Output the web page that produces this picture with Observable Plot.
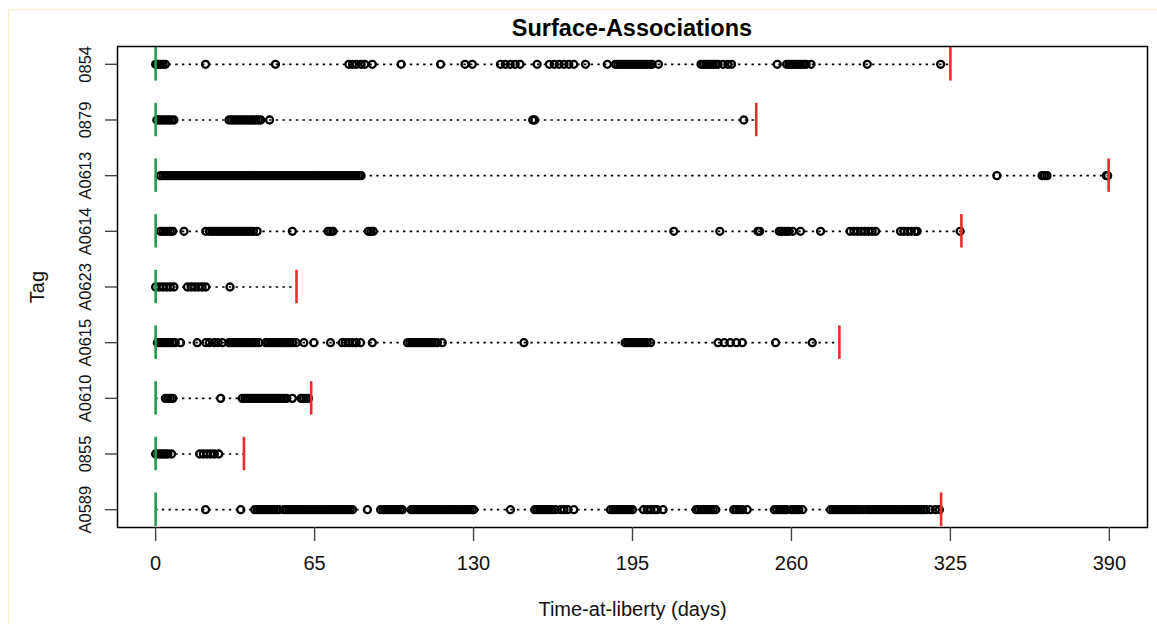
<!DOCTYPE html>
<html>
<head>
<meta charset="utf-8">
<script src="https://cdn.jsdelivr.net/npm/d3@7"></script>
<script src="https://cdn.jsdelivr.net/npm/@observablehq/plot@0.6"></script>
<style>
  html, body { margin: 0; padding: 0; background: #fff; }
  body { width: 1157px; height: 624px; overflow: hidden; position: relative; font-family: "Liberation Sans", Arial, Helvetica, sans-serif; }
  #edge { position: absolute; left: 8px; top: 9px; width: 1300px; height: 800px; border-left: 1px solid #fbefc6; border-top: 1px solid #fbefc6; }
  #head { position: relative; height: 45px; }
  #title { position: absolute; left: 117px; width: 1030px; top: 17px; line-height: 23px; text-align: center; font-size: 23.5px; font-weight: bold; color: #000; }
  #chart svg { display: block; }
</style>
</head>
<body>
<div id="edge"></div>
<div id="head"><div id="title">Surface-Associations</div></div>
<div id="chart"></div>
<script>
// Tags, top to bottom
const tags = ["0854", "0879", "A0613", "A0614", "A0623", "A0615", "A0610", "0855", "A0589"];
// Release (day 0) and end of time-at-liberty per tag
const startDays = [0, 0, 0, 0, 0, 0, 0, 0, 0];
const endDays = [325, 245.6, 389.7, 329.5, 57.6, 279.6, 63.6, 36.1, 321.2];
const xTicks = [0, 65, 130, 195, 260, 325, 390];

// Surface-association events (days at liberty)
const days0854 = [0, 0.5, 1, 2, 3, 4, 20.4, 49, 79, 80.5, 82, 84, 85.5, 88.6, 100.4, 116.5, 126.5, 129.5,
  141, 143, 145, 147, 149, 156, 161, 163, 165, 167, 169, 171, 175.8, 184.7,
  188, 189, 190, 191, 192, 193, 194, 195, 196, 197, 198, 199, 200, 201, 202, 203, 205.6,
  223, 224, 225, 226, 227, 228, 229, 230, 232, 234, 235.5, 254.2,
  258, 259, 260, 261, 262, 263, 264, 265, 266, 268, 291, 321];
const days0879 = [0.5, 1.5, 2.5, 3.5, 4.5, 5.5, 6.5, 7.5, 30, 31, 32, 33, 34, 35, 36, 37, 38, 39, 40, 41, 42, 43,
  46.6, 154.2, 155, 240.5];
const daysA0613 = [2, 3, 4, 5, 6, 7, 8, 9, 10, 11, 12, 13, 14, 15, 16, 17, 18, 19, 20, 21, 22, 23, 24, 25, 26, 27,
  28, 29, 30, 31, 32, 33, 34, 35, 36, 37, 38, 39, 40, 41, 42, 43, 44, 45, 46, 47, 48, 49, 50, 51, 52, 53, 54,
  55, 56, 57, 58, 59, 60, 61, 62, 63, 64, 65, 66, 67, 68, 69, 70, 71, 72, 73, 74, 75, 76, 77, 78, 79, 80, 81,
  82, 83, 84, 344, 362.5, 363.5, 364.5, 388.8, 389.3];
const daysA0614 = [2, 3, 4, 5, 6, 7, 11.6, 20.5, 22, 23, 24, 25, 26, 27, 28, 29, 30, 31, 32, 33, 34, 35, 36, 37,
  38, 39, 40, 41.5, 55.9, 70.5, 71.5, 72.5, 87, 88, 89, 211.9, 230.7, 246.3, 247, 255, 256, 257, 258, 259,
  260.5, 263.7, 271.9, 284, 285.5, 287, 288.5, 290, 291.5, 293, 294.4, 304.6, 306, 307.5, 309, 310.5, 311.4, 329];
const daysA0623 = [0, 1.5, 3, 4.5, 6, 7.5, 13, 14.5, 16, 17.5, 19, 20.5, 30.4];
const daysA0615 = [0.7, 1.7, 2.7, 3.7, 4.7, 5.7, 6.8, 8, 10.2, 17, 20.5, 22, 24, 25.5, 27.3, 30, 31, 32, 33, 34,
  35, 36, 37, 38, 39, 40, 41, 42.3, 45, 46, 47, 48, 49, 50, 51, 52, 53, 54, 55, 56, 57.5, 60.6, 64.7, 71.5,
  76.3, 77.5, 79, 80.5, 82, 83.8, 88.6, 103, 104, 105, 106, 107, 108, 109, 110, 111, 112, 113, 114, 115.2,
  117.2, 150.6, 192, 193, 194, 195, 196, 197, 198, 199, 200, 201, 202.4, 230, 232.5, 235, 237.5, 239.9,
  253.5, 268.5];
const daysA0610 = [4, 5, 6, 7, 26.6, 35.4, 36.5, 37.5, 38.5, 39.5, 40.5, 41.5, 42.5, 43.5, 44.5, 45.5, 46.5,
  47.5, 48.5, 49.5, 50.5, 51.5, 52.5, 53.5, 55.9, 59.5, 60.5, 61.5, 62.5];
const days0855 = [0, 1, 2, 3, 4, 5, 6.5, 18, 19.5, 21, 22.5, 24, 25.8];
const daysA0589 = [20.4, 34.8, 40.5, 41.5, 42.5, 43.5, 44.5, 45.5, 46.5, 47.5, 48.5, 49.5, 50.5,
  52.5, 53.5, 54.5, 55.5, 56.5, 57.5, 58.5, 59.5, 60.5, 61.5, 62.5, 63.5, 64.5, 65.5, 66.5, 67.5, 68.5,
  69.5, 70.5, 71.5, 72.5, 73.5, 74.5, 75.5, 76.5, 77.5, 78.5, 79.5, 80.5, 86.6,
  92, 93, 94, 95, 96, 97, 98, 99, 100, 100.9, 104.5, 105.5, 106.5, 107.5, 108.5, 109.5, 110.5, 111.5,
  112.5, 113.5, 114.5, 115.5, 116.5, 117.5, 118.5, 119.5, 120.5, 121.5, 122.5, 123.5, 124.5, 125.5,
  126.5, 127.5, 128.5, 129.5, 130, 145.1, 155, 156, 157, 158, 159, 160, 161, 162, 163.5, 165.6, 167,
  168.5, 171, 186, 187, 188, 189, 190, 191, 192, 193, 194, 195, 199.5, 201, 202.5, 204, 205.1, 207.5,
  221, 222, 223, 224, 225, 226, 227, 228, 229, 236.4, 237.5, 238.5, 240, 241.9,
  253, 254, 255, 256, 257, 258, 260, 261, 262, 263, 264.5,
  276, 277, 278, 279, 280, 281, 282, 283, 284, 285, 286, 287, 288, 289.5,
  291, 292, 293, 294, 295, 296, 297, 298, 299, 300, 301, 302, 303, 304, 305, 306, 307, 308, 309, 310,
  311, 312, 313, 314, 315, 316.8, 318.9, 320.5];

const eventDays = [days0854, days0879, daysA0613, daysA0614, daysA0623, daysA0615, daysA0610, days0855, daysA0589];

// Tables built from the arrays (row position: top tag highest)
const n = tags.length;
const rows = tags.map((tag, i) => ({tag, pos: n - i, start: startDays[i], end: endDays[i]}));
const events = rows.flatMap((r, i) => eventDays[i].map((day) => ({tag: r.tag, pos: r.pos, day})));

const font = '"Liberation Sans", Arial, Helvetica, sans-serif';

const chart = Plot.plot({
  width: 1157,
  height: 579,
  marginTop: 1,
  marginBottom: 97,
  marginLeft: 117,
  marginRight: 10,
  style: {fontFamily: font, background: "#fff", color: "#000", overflow: "visible"},
  x: {domain: [-15.6, 405.6]},
  y: {domain: [0.68, 9.32]},
  marks: [
    Plot.ruleY(rows, {y: "pos", x1: "start", x2: "end", stroke: "#000", strokeWidth: 1.7, strokeDasharray: "2.4,4.3"}),
    Plot.dot(events, {x: "day", y: "pos", r: 3.5, stroke: "#000", strokeWidth: 2.3, fill: "none"}),
    Plot.ruleX(rows, {x: "start", y1: (d) => d.pos - 0.3, y2: (d) => d.pos + 0.3, stroke: "#1f9d4c", strokeWidth: 2.6}),
    Plot.ruleX(rows, {x: "end", y1: (d) => d.pos - 0.3, y2: (d) => d.pos + 0.3, stroke: "#ee2a2a", strokeWidth: 2.6}),
    Plot.frame({stroke: "#000", strokeWidth: 1.5}),
    Plot.axisX({ticks: xTicks, tickSize: 14, tickPadding: 14, fontSize: 20, label: null, stroke: "#444", strokeWidth: 1.4, color: "#111"}),
    Plot.axisY({ticks: rows.map((r) => r.pos), tickSize: 12, tickFormat: () => "", label: null, stroke: "#444", strokeWidth: 1.4}),
    Plot.text(rows, {y: "pos", text: "tag", frameAnchor: "left", dx: -32, rotate: -90, fontSize: 16.5, fill: "#111", textAnchor: "middle", lineAnchor: "middle"}),
    Plot.text(["Tag"], {text: (d) => d, frameAnchor: "left", dx: -80, rotate: -90, fontSize: 20, fill: "#111", textAnchor: "middle", lineAnchor: "middle"}),
    Plot.text(["Time-at-liberty (days)"], {text: (d) => d, frameAnchor: "bottom", dy: 82, fontSize: 20, fill: "#111", textAnchor: "middle", lineAnchor: "middle"})
  ]
});
document.getElementById("chart").appendChild(chart);
</script>
</body>
</html>
